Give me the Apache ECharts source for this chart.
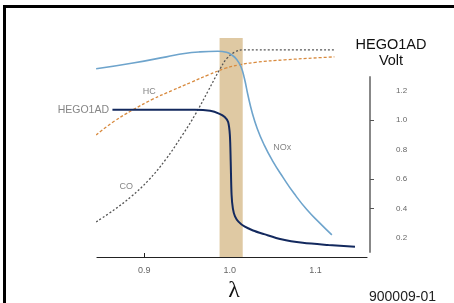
<!DOCTYPE html>
<html lang="en">
<head>
<meta charset="UTF-8">
<title>HEGO1AD</title>
<script src="https://cdn.jsdelivr.net/npm/echarts@6/dist/echarts.min.js"></script>
<style>
    body { margin: 0; background: #fff; }
    #chart { width: 454px; height: 303px; }
</style>
</head>
<body>
<div id="chart"></div>
<script>
    // lambda (x) and sensor volt (y)
    var noxLambda = [0.844, 0.887, 0.926, 0.947, 0.965, 0.986, 0.996, 1.002, 1.008, 1.013, 1.017, 1.021, 1.026, 1.032, 1.040, 1.050, 1.062, 1.075, 1.090, 1.105, 1.119];
    var noxVolt   = [1.346, 1.386, 1.427, 1.450, 1.461, 1.465, 1.458, 1.441, 1.410, 1.360, 1.280, 1.170, 1.050, 0.940, 0.830, 0.720, 0.610, 0.500, 0.390, 0.300, 0.220];

    var hegoLambda = [0.863, 0.906, 0.959, 0.977, 0.988, 0.994, 0.998, 1.000, 1.001, 1.002, 1.0035, 1.006, 1.010, 1.017, 1.027, 1.040, 1.060, 1.085, 1.115, 1.146];
    var hegoVolt   = [1.068, 1.068, 1.068, 1.061, 1.041, 1.020, 0.986, 0.898, 0.715, 0.492, 0.400, 0.345, 0.310, 0.277, 0.250, 0.225, 0.190, 0.166, 0.151, 0.139];

    var coLambda = [0.844, 0.865, 0.885, 0.905, 0.925, 0.945, 0.960, 0.975, 0.988, 0.997, 1.006, 1.015, 1.035, 1.122];
    var coVolt   = [0.308, 0.390, 0.480, 0.590, 0.730, 0.900, 1.040, 1.200, 1.340, 1.420, 1.460, 1.475, 1.475, 1.475];

    var hcLambda = [0.844, 0.865, 0.887, 0.910, 0.933, 0.955, 0.975, 0.995, 1.010, 1.030, 1.064, 1.122];
    var hcVolt   = [0.898, 0.990, 1.068, 1.140, 1.200, 1.255, 1.305, 1.350, 1.372, 1.390, 1.407, 1.427];

    // stoichiometric window
    var bandLambda = [0.988, 1.015];

    var xTicks = [0.9, 1.0, 1.1];
    var voltTicks = [0.2, 0.4, 0.6, 0.8, 1.0, 1.2];
    var voltMarks = [0.4, 0.6, 1.0];

    var curveNames = ['HEGO1AD', 'HC', 'CO', 'NOx'];
    var curveLabelLambda = [0.859, 0.906, 0.879, 1.061];
    var curveLabelVolt = [1.068, 1.19, 0.546, 0.81];

    function pairs(xs, ys) {
        var out = [];
        for (var i = 0; i < xs.length; i++) out.push([xs[i], ys[i]]);
        return out;
    }

    var labelData = [];
    for (var i = 0; i < curveNames.length; i++) {
        labelData.push({
            value: [curveLabelLambda[i], curveLabelVolt[i]],
            name: curveNames[i],
            label: { align: i == 0 ? 'right' : 'center', fontSize: i == 0 ? 10.5 : 9 }
        });
    }

    var ct = echarts.init(document.getElementById('chart'));
    var option = {
        animation: false,
        backgroundColor: '#fff',
        graphic: [
            { type: 'rect', shape: { x: 3, y: 5, width: 451, height: 3 }, style: { fill: '#000' } },
            { type: 'rect', shape: { x: 3, y: 5, width: 3, height: 298 }, style: { fill: '#000' } },
            { type: 'text', x: 391, y: 37, style: { text: 'HEGO1AD', fill: '#111', font: '14.5px "Liberation Sans", Arial', align: 'center' } },
            { type: 'text', x: 391, y: 53, style: { text: 'Volt', fill: '#111', font: '14.5px "Liberation Sans", Arial', align: 'center' } },
            { type: 'text', x: 234, y: 279, style: { text: 'λ', fill: '#111', font: '24px "Liberation Serif", serif', align: 'center' } },
            { type: 'text', x: 369, y: 290, style: { text: '900009-01', fill: '#222', font: '14px "Liberation Sans", Arial', align: 'left' } }
        ],
        grid: [
            { left: 97, right: 87, top: 38, bottom: 46 },
            { left: 370, right: 64, top: 77, bottom: 51 }
        ],
        xAxis: [
            {
                type: 'value', gridIndex: 0, min: 0.845, max: 1.16,
                axisLine: { lineStyle: { color: '#222', width: 1.2 } },
                axisTick: { inside: true, length: 4, customValues: [0.9], lineStyle: { color: '#222' } },
                axisLabel: {
                    customValues: xTicks, margin: 9, fontSize: 9, color: '#666',
                    fontFamily: 'Liberation Sans',
                    formatter: function (v) { return v.toFixed(1); }
                },
                splitLine: { show: false }
            },
            { type: 'value', gridIndex: 1, show: false }
        ],
        yAxis: [
            { type: 'value', gridIndex: 0, min: 0.07, max: 1.555, show: false },
            {
                type: 'value', gridIndex: 1, position: 'right', min: 0.105, max: 1.2915,
                axisLine: { show: true, lineStyle: { color: '#888', width: 2 } },
                axisTick: { show: true, length: 4, customValues: voltMarks, lineStyle: { color: '#555' } },
                axisLabel: {
                    customValues: voltTicks, margin: 6, fontSize: 8, color: '#666',
                    fontFamily: 'Liberation Sans',
                    formatter: function (v) { return v.toFixed(1); }
                },
                splitLine: { show: false }
            }
        ],
        series: [
            {
                name: 'band', type: 'line', data: [], z: 1,
                markArea: {
                    silent: true,
                    itemStyle: { color: '#dfc9a3' },
                    data: [[{ xAxis: bandLambda[0] }, { xAxis: bandLambda[1] }]]
                }
            },
            {
                name: 'NOx', type: 'line', data: pairs(noxLambda, noxVolt), z: 3,
                smooth: 0.5, showSymbol: false,
                lineStyle: { color: '#6ea4cc', width: 1.6 }
            },
            {
                name: 'HC', type: 'line', data: pairs(hcLambda, hcVolt), z: 2,
                smooth: 0.5, showSymbol: false,
                lineStyle: { color: '#d88a3e', width: 1.3, type: [3, 2] }
            },
            {
                name: 'CO', type: 'line', data: pairs(coLambda, coVolt), z: 2,
                smooth: 0.4, showSymbol: false,
                lineStyle: { color: '#555', width: 1.3, type: [2, 2] }
            },
            {
                name: 'HEGO1AD', type: 'line', data: pairs(hegoLambda, hegoVolt), z: 4,
                smooth: 0.3, showSymbol: false,
                lineStyle: { color: '#13295e', width: 2 }
            },
            {
                name: 'labels', type: 'scatter', data: labelData, symbolSize: 0, z: 5,
                label: {
                    show: true, position: 'inside', color: '#666',
                    fontFamily: 'Liberation Sans',
                    formatter: function (p) { return p.name; }
                }
            }
        ]
    };
    ct.setOption(option);
</script>
</body>
</html>
